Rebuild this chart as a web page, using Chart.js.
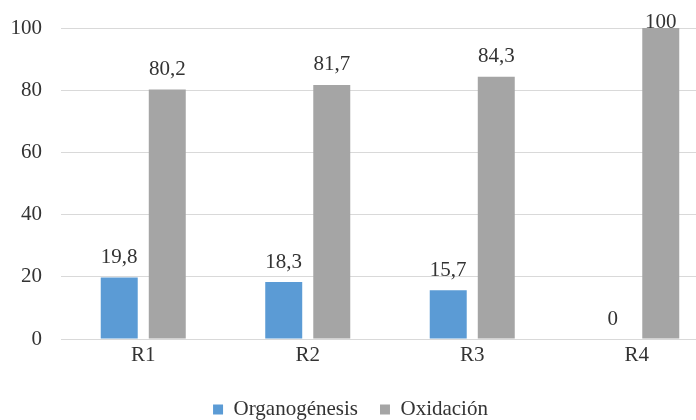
<!DOCTYPE html>
<html>
<head>
<meta charset="utf-8">
<script src="https://cdn.jsdelivr.net/npm/chart.js@4"></script>
<style>
  html, body { margin: 0; padding: 0; background: #fff; overflow: hidden; }
  #wrap { width: 730px; height: 420px; position: relative; }
</style>
</head>
<body>
<div id="wrap"><canvas id="barChart"></canvas></div>
<script>
// category labels and series values
const categories = ['R1', 'R2', 'R3', 'R4'];
const organogenesis = [19.8, 18.3, 15.7, 0];
const oxidacion = [80.2, 81.7, 84.3, 100];
const yTicks = [0, 20, 40, 60, 80, 100];

const FONT = '"Liberation Serif", "Times New Roman", serif';
const FSIZE = 21;
const TEXT = '#333333';

// draws the value above each bar, comma as decimal separator
const valueLabels = {
    id: 'valueLabels',
    afterLayout(chart) {
        // nudge the legend a bit to the left, like the original
        const lg = chart.legend;
        if (lg) { lg.left -= 9; lg.right -= 9; }
    },
    afterDatasetsDraw(chart) {
        const ctx = chart.ctx;
        ctx.save();
        ctx.font = FSIZE + 'px ' + FONT;
        ctx.fillStyle = TEXT;
        ctx.textAlign = 'center';
        ctx.textBaseline = 'middle';
        chart.data.datasets.forEach((ds, i) => {
            const meta = chart.getDatasetMeta(i);
            meta.data.forEach((bar, j) => {
                const txt = String(ds.data[j]).replace('.', ',');
                const y = Math.max(bar.y - 20, chart.chartArea.top - 6);
                ctx.fillText(txt, bar.x, y);
            });
        });
        ctx.restore();
    }
};

function drawChart() {
    const ctx = document.getElementById('barChart');
    new Chart(ctx, {
        type: 'bar',
        data: {
            labels: categories,
            datasets: [
                {
                    label: 'Organogénesis',
                    data: organogenesis,
                    backgroundColor: '#5B9BD5',
                    categoryPercentage: 0.584,
                    barPercentage: 0.77
                },
                {
                    label: 'Oxidación',
                    data: oxidacion,
                    backgroundColor: '#A5A5A5',
                    categoryPercentage: 0.584,
                    barPercentage: 0.77
                }
            ]
        },
        options: {
            responsive: true,
            maintainAspectRatio: false,
            animation: false,
            layout: { padding: { top: 28, right: 11, left: 0, bottom: -10 } },
            scales: {
                y: {
                    min: 0,
                    max: 100,
                    afterFit: (scale) => {
                        scale.width = 61;
                        // tick padding would otherwise push the plot top down
                        scale.paddingTop = 0;
                        scale.paddingBottom = 0;
                    },
                    afterBuildTicks: (scale) => { scale.ticks = yTicks.map(v => ({ value: v })); },
                    border: { display: false },
                    grid: { color: '#d9d9d9', drawTicks: false, lineWidth: 1 },
                    ticks: { padding: 19, color: TEXT, font: { family: FONT, size: FSIZE } }
                },
                x: {
                    afterFit: (scale) => { scale.height = 38; },
                    border: { display: false },
                    grid: { display: false, drawTicks: false },
                    ticks: { padding: 4, color: TEXT, font: { family: FONT, size: FSIZE } }
                }
            },
            plugins: {
                tooltip: { enabled: false },
                legend: {
                    position: 'bottom',
                    labels: {
                        boxWidth: 10,
                        boxHeight: 10,
                        padding: 22,
                        color: TEXT,
                        font: { family: FONT, size: FSIZE }
                    }
                }
            }
        },
        plugins: [valueLabels]
    });
}

if (document.fonts && document.fonts.load) {
    document.fonts.load(FSIZE + 'px "Liberation Serif"').then(drawChart, drawChart);
} else {
    drawChart();
}
</script>
</body>
</html>
